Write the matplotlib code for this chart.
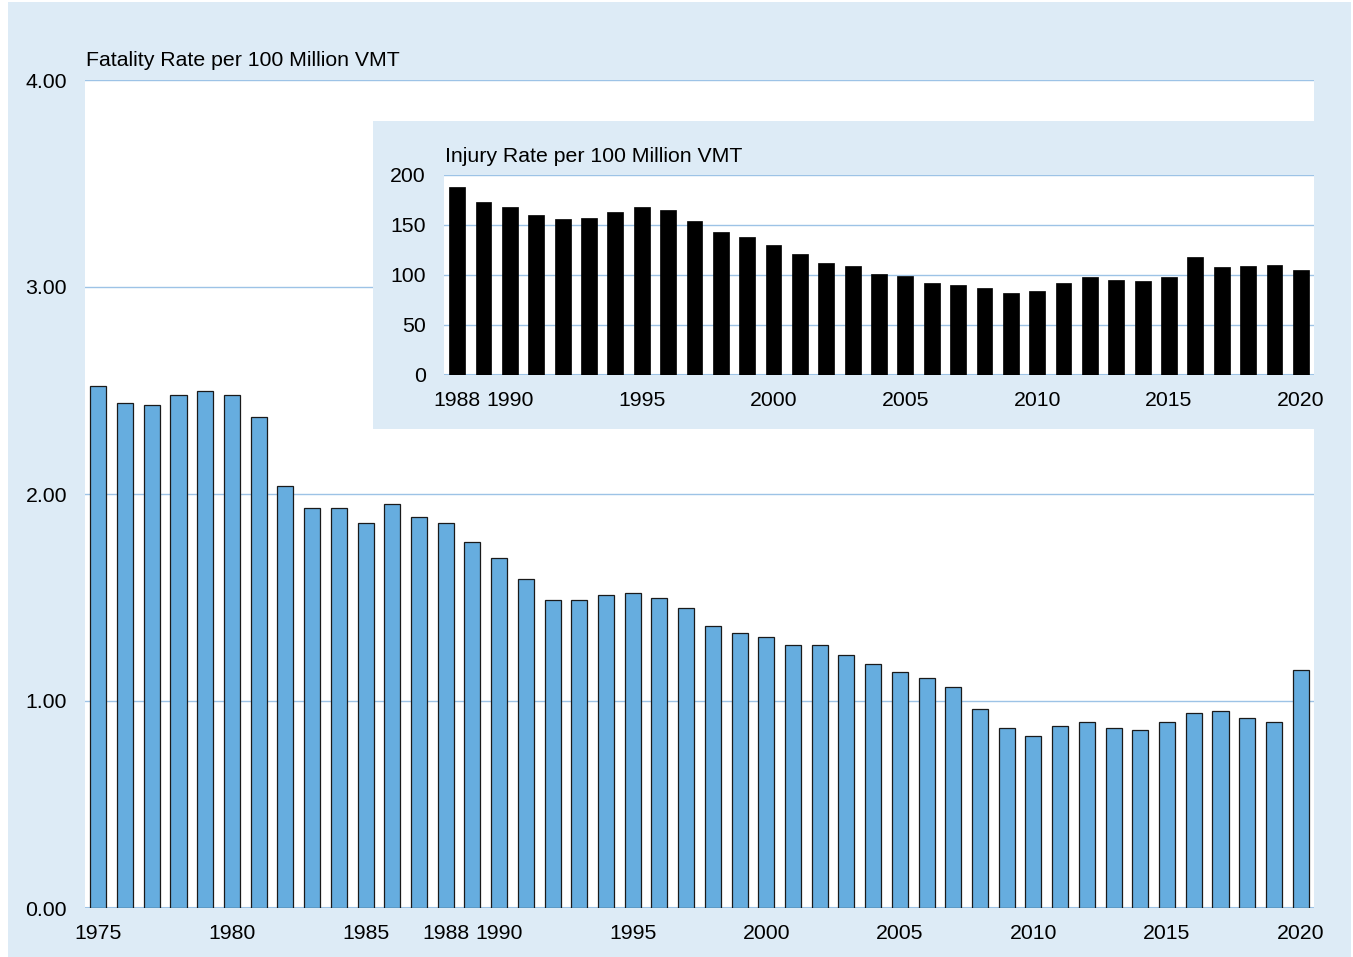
import matplotlib
matplotlib.use('Agg')
import matplotlib.pyplot as plt
from matplotlib.patches import Rectangle

plt.rcParams['font.family'] = ['Liberation Sans', 'DejaVu Sans']

# fatality rate per 100 million VMT, 1975-2020
years = list(range(1975, 2021))
fatality = [2.52, 2.44, 2.43, 2.48, 2.50, 2.48, 2.37, 2.04, 1.93, 1.93,
            1.86, 1.95, 1.89, 1.86, 1.77, 1.69, 1.59, 1.49, 1.49, 1.51,
            1.52, 1.50, 1.45, 1.36, 1.33, 1.31, 1.27, 1.27, 1.22, 1.18,
            1.14, 1.11, 1.07, 0.96, 0.87, 0.83, 0.88, 0.90, 0.87, 0.86,
            0.90, 0.94, 0.95, 0.92, 0.90, 1.15]
fat_ticks = [1975, 1980, 1985, 1988, 1990, 1995, 2000, 2005, 2010, 2015, 2020]

# injury rate per 100 million VMT, 1988-2020
inj_years = list(range(1988, 2021))
injury = [188, 173, 168, 160, 156, 157, 163, 168, 165, 154,
          143, 138, 130, 121, 112, 109, 101, 99, 92, 90,
          87, 82, 84, 92, 98, 95, 94, 98, 118, 108,
          109, 110, 105]
inj_ticks = [1988, 1990, 1995, 2000, 2005, 2010, 2015, 2020]

bg = '#ddebf6'
grid = '#9dc3e6'
bar_blue = '#66addf'
fs = 15.3

fig = plt.figure(figsize=(13.53, 9.57), dpi=100)
fig.patch.set_facecolor('white')
fig.patches.append(Rectangle((8 / 1353, 0), 1343 / 1353, 955 / 957,
                             transform=fig.transFigure, facecolor=bg,
                             edgecolor='none', zorder=-10))

def style(ax, yticks, fmt):
    ax.set_facecolor('white')
    for s in ax.spines.values():
        s.set_visible(False)
    ax.set_yticks(yticks)
    ax.set_yticklabels([fmt.format(v) for v in yticks], fontsize=fs)
    ax.yaxis.grid(True, color=grid, linewidth=1.0)
    ax.set_axisbelow(True)
    ax.tick_params(length=0)
    ax.tick_params(axis='y', pad=13)
    ax.tick_params(axis='x', pad=11.5)
    ax.axhline(0, color=grid, linewidth=1.5, zorder=1)

# main chart
ax = fig.add_axes([85 / 1353, 1 - 908 / 957, 1229 / 1353, 828 / 957])
x = [y - years[0] for y in years]
ax.bar(x, fatality, width=0.6, color=bar_blue, edgecolor='#1a1a1a',
       linewidth=0.9, zorder=3)
ax.set_xlim(-0.5, len(years) - 0.5)
ax.set_ylim(0, 4.0)
style(ax, [0, 1, 2, 3, 4], '{:.2f}')
ax.set_xticks([t - years[0] for t in fat_ticks])
ax.set_xticklabels([str(t) for t in fat_ticks], fontsize=fs)
fig.text(86 / 1353, 1 - 60 / 957, 'Fatality Rate per 100 Million VMT',
         fontsize=fs, va='center', ha='left')

# inset panel
fig.patches.append(Rectangle((373 / 1353, 1 - 429 / 957), 941 / 1353,
                             308 / 957, transform=fig.transFigure,
                             facecolor=bg, edgecolor='none', zorder=5))
ax2 = fig.add_axes([444 / 1353, 1 - 374.5 / 957, 870 / 1353, 199.5 / 957])
ax2.set_zorder(6)
x2 = [y - inj_years[0] for y in inj_years]
ax2.bar(x2, injury, width=0.6, color='black', edgecolor='black',
        linewidth=0.5, zorder=3)
ax2.set_xlim(-0.5, len(inj_years) - 0.5)
ax2.set_ylim(0, 200)
style(ax2, [0, 50, 100, 150, 200], '{:d}')
ax2.set_xticks([t - inj_years[0] for t in inj_ticks])
ax2.set_xticklabels([str(t) for t in inj_ticks], fontsize=fs)
ax2.tick_params(axis='x', pad=12)
fig.text(445 / 1353, 1 - 157 / 957, 'Injury Rate per 100 Million VMT',
         fontsize=fs, va='center', ha='left', zorder=7)

fig.savefig('out.png', dpi=100, facecolor=fig.get_facecolor())
